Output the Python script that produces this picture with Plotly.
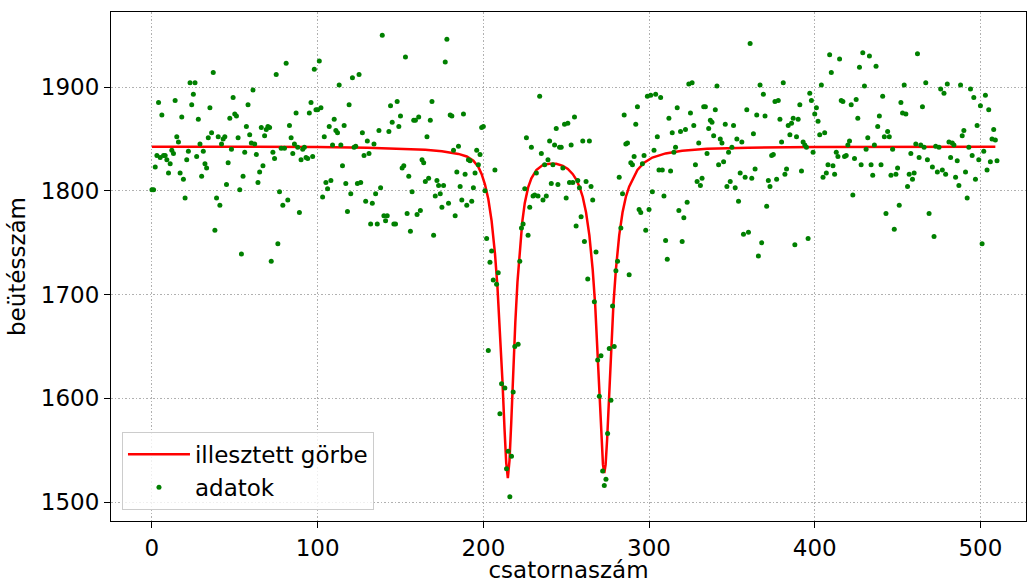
import plotly.graph_objects as go

channels = [
    0, 1, 2, 3, 4, 5, 6, 7, 8, 9, 10, 11, 12, 13, 14, 15, 16, 17, 18, 19,
    20, 21, 22, 23, 24, 25, 26, 27, 28, 29, 30, 31, 32, 33, 34, 35, 36, 37, 38, 39,
    40, 41, 42, 43, 44, 45, 46, 47, 48, 49, 50, 51, 52, 53, 54, 55, 56, 57, 58, 59,
    60, 61, 62, 63, 64, 65, 66, 67, 68, 69, 70, 71, 72, 73, 74, 75, 76, 77, 78, 79,
    80, 81, 82, 83, 84, 85, 86, 87, 88, 89, 90, 91, 92, 93, 94, 95, 96, 97, 98, 99,
    100, 101, 102, 103, 104, 105, 106, 107, 108, 109, 110, 111, 112, 113, 114, 115, 116, 117, 118, 119,
    120, 121, 122, 123, 124, 125, 126, 127, 128, 129, 130, 131, 132, 133, 134, 135, 136, 137, 138, 139,
    140, 141, 142, 143, 144, 145, 146, 147, 148, 149, 150, 151, 152, 153, 154, 155, 156, 157, 158, 159,
    160, 161, 162, 163, 164, 165, 166, 167, 168, 169, 170, 171, 172, 173, 174, 175, 176, 177, 178, 179,
    180, 181, 182, 183, 184, 185, 186, 187, 188, 189, 190, 191, 192, 193, 194, 195, 196, 197, 198, 199,
    200, 201, 202, 203, 204, 205, 206, 207, 208, 209, 210, 211, 213, 214, 215, 216, 217, 218, 219, 221,
    222, 223, 224, 225, 226, 227, 228, 229, 230, 231, 232, 233, 234, 235, 236, 237, 238, 239, 240, 241,
    242, 243, 244, 245, 246, 247, 248, 249, 250, 251, 252, 253, 254, 255, 256, 257, 258, 259, 260, 261,
    262, 263, 264, 265, 266, 267, 268, 269, 270, 271, 272, 273, 274, 275, 276, 277, 278, 279, 280, 281,
    282, 283, 284, 285, 286, 287, 288, 289, 290, 291, 292, 293, 294, 295, 296, 297, 298, 299, 300, 301,
    302, 303, 304, 305, 306, 307, 308, 309, 310, 311, 312, 313, 314, 315, 316, 317, 318, 319, 320, 321,
    322, 323, 324, 325, 326, 327, 328, 329, 330, 331, 332, 333, 334, 335, 336, 337, 338, 339, 340, 341,
    342, 343, 344, 345, 346, 347, 348, 349, 350, 351, 352, 353, 354, 355, 356, 357, 358, 359, 360, 361,
    362, 363, 364, 365, 366, 367, 368, 369, 370, 371, 372, 373, 374, 375, 376, 377, 378, 379, 380, 381,
    382, 383, 384, 385, 386, 387, 388, 389, 390, 391, 392, 393, 394, 395, 396, 397, 398, 399, 400, 401,
    402, 403, 404, 405, 406, 407, 408, 409, 410, 411, 412, 413, 414, 415, 416, 417, 418, 419, 420, 421,
    422, 423, 424, 425, 426, 427, 428, 429, 430, 431, 432, 433, 434, 435, 436, 437, 438, 439, 440, 441,
    442, 443, 444, 445, 446, 447, 448, 449, 450, 451, 452, 453, 454, 455, 456, 457, 458, 459, 460, 461,
    462, 463, 464, 465, 466, 467, 468, 469, 471, 472, 473, 474, 475, 476, 477, 478, 479, 480, 481, 482,
    483, 484, 485, 486, 487, 488, 489, 490, 491, 492, 493, 494, 495, 496, 497, 498, 499, 500, 501, 502,
    503, 504, 505, 506, 507, 508, 509, 510,
]

counts = [
    1801, 1801, 1823, 1834, 1885, 1832, 1873, 1834, 1834, 1830, 1817, 1826, 1839, 1836, 1887, 1852, 1847, 1817, 1871, 1811,
    1793, 1830, 1838, 1904, 1883, 1893, 1904, 1833, 1869, 1845, 1814, 1838, 1826, 1822, 1851, 1880, 1856, 1914, 1762, 1793,
    1852, 1786, 1845, 1850, 1852, 1806, 1827, 1870, 1840, 1890, 1874, 1872, 1851, 1801, 1739, 1814, 1837, 1862, 1883, 1854,
    1846, 1897, 1845, 1835, 1808, 1818, 1861, 1824, 1853, 1859, 1862, 1861, 1732, 1837, 1831, 1912, 1749, 1799, 1841, 1786,
    1841, 1923, 1791, 1863, 1851, 1836, 1845, 1875, 1842, 1779, 1830, 1840, 1842, 1832, 1831, 1875, 1885, 1833, 1917, 1878,
    1878, 1925, 1880, 1794, 1852, 1808, 1802, 1862, 1810, 1844, 1869, 1858, 1856, 1902, 1844, 1824, 1863, 1807, 1780, 1883,
    1797, 1909, 1842, 1843, 1807, 1912, 1808, 1856, 1834, 1790, 1848, 1836, 1768, 1788, 1845, 1797, 1768, 1858, 1803, 1950,
    1776, 1771, 1776, 1857, 1882, 1866, 1768, 1768, 1886, 1862, 1872, 1822, 1824, 1929, 1778, 1814, 1761, 1799, 1868, 1868,
    1777, 1871, 1781, 1830, 1827, 1809, 1852, 1812, 1868, 1886, 1757, 1795, 1810, 1805, 1797, 1784, 1805, 1924, 1946, 1788,
    1873, 1872, 1839, 1776, 1818, 1843, 1804, 1791, 1874, 1816, 1786, 1830, 1829, 1790, 1803, 1817, 1839, 1825, 1835, 1861,
    1862, 1800, 1754, 1646, 1731, 1742, 1714, 1820, 1710, 1721, 1585, 1614, 1610, 1532, 1549, 1505, 1544, 1606, 1650, 1652,
    1732, 1764, 1768, 1802, 1851, 1757, 1784, 1842, 1795, 1796, 1817, 1795, 1891, 1836, 1791, 1825, 1795, 1830, 1848, 1807,
    1825, 1844, 1860, 1806, 1842, 1842, 1822, 1864, 1793, 1865, 1808, 1844, 1808, 1871, 1766, 1810, 1803, 1775, 1848, 1751,
    1809, 1715, 1848, 1804, 1791, 1693, 1741, 1637, 1602, 1641, 1530, 1516, 1522, 1566, 1648, 1598, 1689, 1650, 1723, 1732,
    1813, 1764, 1797, 1873, 1845, 1846, 1719, 1827, 1825, 1833, 1864, 1881, 1782, 1779, 1826, 1834, 1762, 1891, 1782, 1892,
    1799, 1839, 1893, 1852, 1820, 1890, 1820, 1795, 1752, 1734, 1870, 1819, 1856, 1837, 1842, 1880, 1781, 1857, 1751, 1774,
    1859, 1789, 1903, 1875, 1904, 1863, 1825, 1809, 1846, 1805, 1812, 1881, 1881, 1836, 1860, 1868, 1866, 1853, 1878, 1901,
    1825, 1850, 1846, 1828, 1864, 1804, 1837, 1809, 1842, 1863, 1803, 1850, 1790, 1817, 1847, 1758, 1813, 1878, 1760, 1942,
    1812, 1855, 1821, 1873, 1737, 1902, 1750, 1893, 1872, 1785, 1810, 1804, 1834, 1835, 1886, 1811, 1887, 1869, 1847, 1904,
    1816, 1821, 1863, 1854, 1865, 1870, 1748, 1852, 1869, 1883, 1819, 1847, 1844, 1842, 1754, 1894, 1887, 1837, 1874, 1880,
    1867, 1854, 1902, 1813, 1856, 1817, 1825, 1931, 1914, 1824, 1816, 1837, 1833, 1927, 1887, 1886, 1833, 1834, 1844, 1848,
    1883, 1796, 1831, 1888, 1870, 1919, 1825, 1933, 1901, 1840, 1851, 1930, 1825, 1815, 1844, 1920, 1862, 1872, 1825, 1891,
    1852, 1778, 1857, 1852, 1815, 1840, 1763, 1816, 1822, 1786, 1885, 1875, 1902, 1874, 1804, 1816, 1836, 1811, 1817, 1845,
    1932, 1832, 1844, 1881, 1842, 1904, 1830, 1778, 1823, 1756, 1843, 1818, 1842, 1898, 1820, 1894, 1816, 1903, 1847, 1832,
    1846, 1844, 1813, 1829, 1805, 1902, 1853, 1858, 1818, 1793, 1842, 1898, 1834, 1890, 1811, 1863, 1830, 1882, 1749, 1838,
    1892, 1820, 1878, 1828, 1850, 1859, 1849, 1829,
]

# fitted curve
fit_x = [
    0, 60, 100, 130, 150, 165, 175, 185, 190, 194, 197, 199, 201, 203, 205, 207, 208.5, 210, 211.5, 212.8,
    213.8, 214.8, 215.8, 216.8, 218, 219.3, 220.6, 222, 223.5, 225, 227, 229, 232, 236, 240, 244, 248, 251,
    254, 256, 258, 260, 262, 264, 266, 267.5, 269, 270.3, 271.3, 272.2, 273, 273.8, 274.7, 275.7, 277, 278.5,
    280, 282, 284, 286, 288, 290, 293, 297, 302, 310, 320, 335, 360, 400, 450, 509,
]
fit_y = [
    1842.5, 1842.5, 1842.2, 1841.5, 1840.5, 1839.5, 1838, 1835.5, 1833, 1829, 1823, 1816, 1806, 1792, 1771, 1740, 1708, 1668, 1618, 1570,
    1538, 1523, 1540, 1575, 1625, 1673, 1712, 1745, 1770, 1788, 1803, 1812, 1820, 1825, 1826, 1826, 1824, 1821,
    1816, 1811, 1804, 1794, 1779, 1757, 1724, 1690, 1643, 1597, 1560, 1536, 1528, 1536, 1560, 1597, 1643, 1690,
    1724, 1757, 1779, 1794, 1804, 1811, 1820, 1827, 1832, 1836, 1838.5, 1840.5, 1841.5, 1842.2, 1842.5, 1842.5,
]

x_ticks = [0, 100, 200, 300, 400, 500]
y_ticks = [1500, 1600, 1700, 1800, 1900]

FONT = "DejaVu Sans"
TICK_SIZE = 23
LABEL_SIZE = 23

fig = go.Figure()
fig.add_trace(go.Scatter(
    x=fit_x, y=fit_y, mode="lines", name="illesztett görbe",
    line=dict(color="#ff0000", width=2.5),
))
fig.add_trace(go.Scatter(
    x=channels, y=counts, mode="markers", name="adatok",
    marker=dict(color="#008000", size=5, line=dict(width=0)),
))

axis_common = dict(
    showline=True, mirror=True, linecolor="black", linewidth=1,
    ticks="outside", ticklen=6, tickwidth=1, tickcolor="black",
    showgrid=True, gridcolor="#b0b0b0", gridwidth=1.2, griddash="1.5px,2px",
    zeroline=False, automargin=False,
    tickfont=dict(family=FONT, size=TICK_SIZE, color="black"),
)

fig.update_layout(
    width=1027, height=583,
    margin=dict(l=111, r=1, t=12, b=62, autoexpand=False),
    paper_bgcolor="white", plot_bgcolor="white",
    font=dict(family=FONT, size=LABEL_SIZE, color="black"),
    xaxis=dict(range=[-24.7, 527.5], tickvals=x_ticks,
               title=dict(text="csatornaszám", font=dict(family=FONT, size=LABEL_SIZE), standoff=0),
               **axis_common),
    yaxis=dict(range=[1481.7, 1972.3], tickvals=y_ticks,
               title=dict(text="beütésszám", font=dict(family=FONT, size=LABEL_SIZE), standoff=8),
               **axis_common),
    legend=dict(
        x=0.012, y=0.022, xanchor="left", yanchor="bottom",
        bgcolor="rgba(255,255,255,0.8)", bordercolor="#cccccc", borderwidth=1,
        font=dict(family=FONT, size=LABEL_SIZE), itemwidth=62, tracegroupgap=0,
    ),
    showlegend=True,
)

fig.write_html(
    "out.html",
    config={"displayModeBar": False},
    post_script="document.body.style.margin='0px'; document.body.style.overflow='hidden';",
)
